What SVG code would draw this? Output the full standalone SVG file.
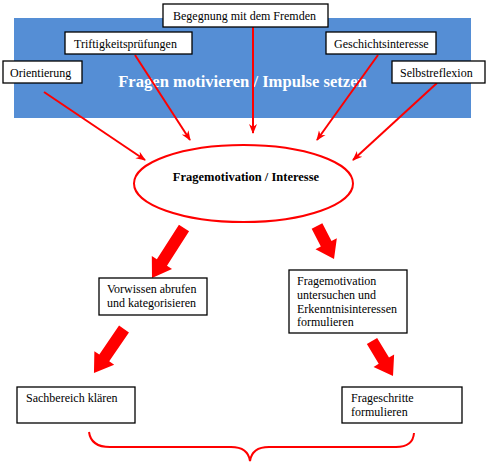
<svg xmlns="http://www.w3.org/2000/svg" width="488" height="466" viewBox="0 0 488 466">
<defs>
<marker id="ah" viewBox="0 0 10 10" refX="9" refY="5" markerWidth="5" markerHeight="5" orient="auto" markerUnits="strokeWidth">
<path d="M0,1 L10,5 L0,9 L3,5 Z" fill="#ff0000"/>
</marker>
<style>
.box{fill:#fff;stroke:#000;stroke-width:1.3}
.thin{stroke:#ff0000;stroke-width:2;fill:none;marker-end:url(#ah)}
.thick{fill:#ff0000}
</style>
</defs>
<rect id="banner" x="14" y="18" width="457" height="100" fill="#558ed5"/>
<text x="242.5" y="87" text-anchor="middle" font-family="Liberation Serif, Times New Roman, serif" font-size="16.6" font-weight="bold" fill="#fff">Fragen motivieren  / Impulse setzen</text>

<g id="connectors">
<line class="thin" x1="44" y1="92" x2="145" y2="160"/>
<line class="thin" x1="135" y1="55" x2="190" y2="140"/>
<line class="thin" x1="253" y1="27" x2="253" y2="133"/>
<line class="thin" x1="378" y1="55" x2="317" y2="140"/>
<line class="thin" x1="437" y1="83" x2="353" y2="160"/>
<path class="thick" transform="translate(184,228) rotate(122.6)" d="M0,-6 L41,-6 L41,-12 L59.4,0 L41,12 L41,6 L0,6 Z"/>
<path class="thick" transform="translate(317,226) rotate(62.7)" d="M0,-6 L20,-6 L20,-12 L37.1,0 L20,12 L20,6 L0,6 Z"/>
<path class="thick" transform="translate(124,329) rotate(124.3)" d="M0,-6 L35,-6 L35,-12 L53.3,0 L35,12 L35,6 L0,6 Z"/>
<path class="thick" transform="translate(372,341) rotate(59)" d="M0,-6 L23,-6 L23,-12 L40.8,0 L23,12 L23,6 L0,6 Z"/>
<path d="M89,432 Q91,447 110,447 L231,447 Q248,447 250,461 Q252,447 269,447 L396,447 Q413,447 414,433" fill="none" stroke="#ff0000" stroke-width="2"/>
</g>

<g font-family="Liberation Serif, Times New Roman, serif" font-size="12" fill="#000">
<g id="n-begegnung"><rect class="box" x="163" y="4" width="165" height="23"/><text x="173" y="20">Begegnung mit dem Fremden</text></g>
<g id="n-triftig"><rect class="box" x="65" y="32" width="127" height="22"/><text x="74" y="48">Triftigkeitsprüfungen</text></g>
<g id="n-orient"><rect class="box" x="3" y="61" width="79" height="22"/><text x="10" y="77">Orientierung</text></g>
<g id="n-geschichte"><rect class="box" x="326" y="32" width="110" height="22"/><text x="334" y="48">Geschichtsinteresse</text></g>
<g id="n-selbst"><rect class="box" x="392" y="61" width="93" height="22"/><text x="400" y="77">Selbstreflexion</text></g>

<g id="n-frage"><ellipse cx="243.5" cy="183.5" rx="109.5" ry="38.5" fill="#fff" stroke="#ff0000" stroke-width="2"/><text x="246" y="181" text-anchor="middle" font-size="12.5" font-weight="bold">Fragemotivation / Interesse</text></g>

<g id="n-vorwissen"><rect class="box" x="99" y="278" width="108" height="37"/><text x="107" y="293">Vorwissen abrufen</text><text x="107" y="307">und kategorisieren</text></g>
<g id="n-untersuchen"><rect class="box" x="289" y="270" width="118" height="63"/><text x="297" y="285">Fragemotivation</text><text x="297" y="299">untersuchen und</text><text x="297" y="313">Erkenntnisinteressen</text><text x="297" y="326">formulieren</text></g>
<g id="n-sachbereich"><rect class="box" x="17" y="387" width="118" height="36"/><text x="26" y="402">Sachbereich klären</text></g>
<g id="n-frageschritte"><rect class="box" x="342" y="387" width="120" height="36"/><text x="351" y="402">Frageschritte</text><text x="351" y="416">formulieren</text></g>
</g>
</svg>
